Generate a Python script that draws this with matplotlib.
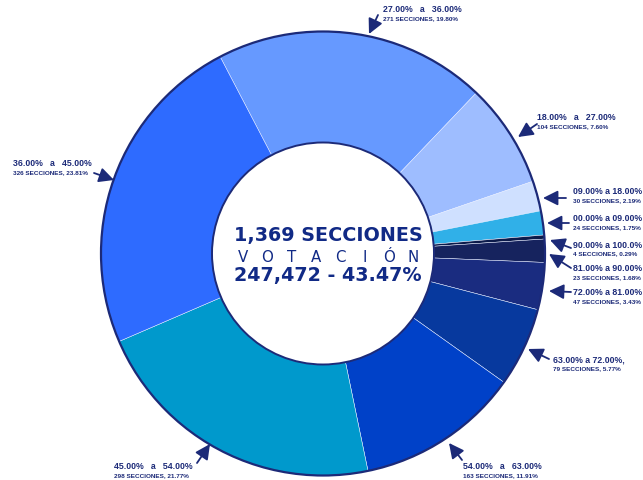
import matplotlib
matplotlib.use("Agg")
import matplotlib.pyplot as plt
from matplotlib.patches import Circle
import numpy as np

plt.rcParams['font.family'] = ['Liberation Sans', 'DejaVu Sans']

# ─── datos ───
rangos = ["27.00%   a   36.00%", "18.00%   a   27.00%", "09.00% a 18.00%",
          "00.00% a 09.00%", "90.00% a 100.0%", "81.00% a 90.00%",
          "72.00% a 81.00%", "63.00% a 72.00%,", "54.00%   a   63.00%",
          "45.00%   a   54.00%", "36.00%   a   45.00%"]
secciones = [271, 104, 30, 24, 4, 23, 47, 79, 163, 298, 326]
porcentajes = ["19.80%", "7.60%", "2.19%", "1.75%", "0.29%", "1.68%",
               "3.43%", "5.77%", "11.91%", "21.77%", "23.81%"]
colores = ["#6699ff", "#9ebdff", "#cfe0ff", "#30b0e8", "#0b1a4a", "#16235e",
           "#1a2c80", "#07399e", "#0041c8", "#0099cc", "#2e6bff"]

total_secciones = "1,369 SECCIONES"
palabra = "VOTACIÓN"
votacion = "247,472 - 43.47%"

W, H = 643, 480
cx, cy = 323, H - 253.5
R = 222
ancho = 111
navy = "#1c2a78"
azul_txt = "#112a86"

fig = plt.figure(figsize=(W / 100, H / 100), dpi=100)
ax = fig.add_axes([0, 0, 1, 1])

ax.pie(secciones, colors=colores, startangle=117.6, counterclock=False,
       radius=R, center=(cx, cy),
       wedgeprops=dict(width=ancho, edgecolor="#e8eeff", linewidth=0.35))
ax.add_patch(Circle((cx, cy), R, fill=False, edgecolor=navy, lw=1.6))
ax.add_patch(Circle((cx, cy), R - ancho, fill=False, edgecolor=navy, lw=1.4))
ax.set_xlim(0, W)
ax.set_ylim(0, H)
ax.set_aspect("equal")
ax.axis("off")

# ─── etiquetas: inicio del texto (x, centro línea 1), punta y cola de flecha ───
pos_texto = [(383, 10), (537, 118), (573, 191.5), (573, 218.5), (573, 245),
             (573, 268.5), (573, 292.5), (553, 360), (463, 466.5),
             (114, 466.5), (13, 164)]
puntas = [(369, 34), (518, 137), (543, 198), (547, 223), (550, 240),
          (549, 254), (549, 291), (528, 349), (449, 443), (210, 444),
          (114, 180)]
colas = [(378, 15), (537, 124), (566, 198), (569, 223), (571, 248),
         (571, 268), (571, 292), (549, 359), (462, 460), (197, 463),
         (94, 173)]

for r, s, p, (tx, ty), pt, cl in zip(rangos, secciones, porcentajes,
                                      pos_texto, puntas, colas):
    ax.text(tx, H - ty, r, fontsize=6.3, fontweight="bold", color=navy,
            ha="left", va="center")
    ax.text(tx, H - ty - 8.8, f"{s} SECCIONES, {p}", fontsize=4.6,
            fontweight="bold", color=navy, ha="left", va="center")
    ax.annotate("", xy=(pt[0], H - pt[1]), xytext=(cl[0], H - cl[1]),
                arrowprops=dict(arrowstyle="-|>,head_length=0.9,head_width=0.45",
                                color=navy, lw=1.3, shrinkA=0, shrinkB=0))

# ─── texto central ───
ax.text(328, H - 235, total_secciones, fontsize=13.8, fontweight="bold",
        color=azul_txt, ha="center", va="center", family="DejaVu Sans")
for letra, x in zip(palabra, np.linspace(243, 413, len(palabra))):
    ax.text(x, H - 257, letra, fontsize=10.8, color=azul_txt,
            ha="center", va="center", family="DejaVu Sans")
ax.text(328, H - 276, votacion, fontsize=13.8, fontweight="bold",
        color=azul_txt, ha="center", va="center", family="DejaVu Sans")

fig.savefig("out.png", dpi=100)
